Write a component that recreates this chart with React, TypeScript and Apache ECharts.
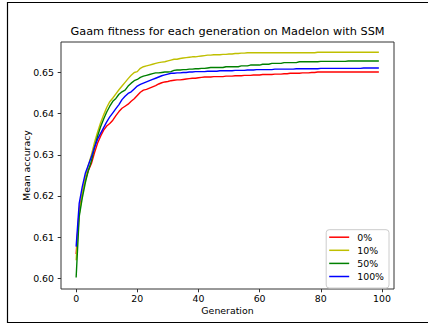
import React, { useEffect, useRef } from "react";
import * as echarts from "echarts";

// Mean accuracy per generation (0..99) for each SSM setting
const generations: number[] = Array.from({ length: 100 }, (_, i) => i);

const acc0: number[] = [
  0.6059, 0.6166, 0.6205, 0.6239, 0.6262, 0.6279, 0.6305, 0.6328, 0.6345, 0.6360,
  0.6370, 0.6376, 0.6384, 0.6395, 0.6405, 0.6413, 0.6418, 0.6423, 0.6430, 0.6436,
  0.6444, 0.6452, 0.6457, 0.6459, 0.6462, 0.6465, 0.6468, 0.6472, 0.6475, 0.6477,
  0.6478, 0.6480, 0.6481, 0.6482, 0.6482, 0.6483, 0.6484, 0.6485, 0.6486, 0.6486,
  0.6487, 0.6488, 0.6489, 0.6489, 0.6489, 0.6490, 0.6490, 0.6490, 0.6490, 0.6491,
  0.6491, 0.6491, 0.6492, 0.6492, 0.6492, 0.6493, 0.6493, 0.6493, 0.6494, 0.6494,
  0.6494, 0.6495, 0.6495, 0.6495, 0.6495, 0.6496, 0.6496, 0.6496, 0.6497, 0.6497,
  0.6498, 0.6498, 0.6498, 0.6498, 0.6499, 0.6499, 0.6499, 0.6500, 0.6500, 0.6501,
  0.6501, 0.6501, 0.6501, 0.6501, 0.6501, 0.6501, 0.6501, 0.6501, 0.6501, 0.6501,
  0.6501, 0.6501, 0.6501, 0.6501, 0.6501, 0.6501, 0.6501, 0.6501, 0.6501, 0.6501,
];

const acc10: number[] = [
  0.6044, 0.6155, 0.6205, 0.6245, 0.6275, 0.6300, 0.6330, 0.6355, 0.6378, 0.6397,
  0.6415, 0.6429, 0.6438, 0.6448, 0.6458, 0.6467, 0.6476, 0.6485, 0.6493, 0.6500,
  0.6502, 0.6510, 0.6514, 0.6516, 0.6518, 0.6520, 0.6522, 0.6524, 0.6525, 0.6526,
  0.6528, 0.6530, 0.6532, 0.6532, 0.6534, 0.6535, 0.6536, 0.6537, 0.6538, 0.6538,
  0.6539, 0.6540, 0.6541, 0.6542, 0.6542, 0.6543, 0.6543, 0.6543, 0.6544, 0.6544,
  0.6545, 0.6545, 0.6546, 0.6546, 0.6547, 0.6547, 0.6548, 0.6548, 0.6548, 0.6548,
  0.6548, 0.6548, 0.6548, 0.6548, 0.6548, 0.6548, 0.6548, 0.6548, 0.6548, 0.6548,
  0.6548, 0.6548, 0.6548, 0.6548, 0.6548, 0.6548, 0.6548, 0.6548, 0.6548, 0.6549,
  0.6549, 0.6549, 0.6549, 0.6549, 0.6549, 0.6549, 0.6549, 0.6549, 0.6549, 0.6549,
  0.6549, 0.6549, 0.6549, 0.6549, 0.6549, 0.6549, 0.6549, 0.6549, 0.6549, 0.6549,
];

const acc50: number[] = [
  0.6002, 0.6150, 0.6195, 0.6232, 0.6262, 0.6285, 0.6318, 0.6345, 0.6368, 0.6387,
  0.6404, 0.6418, 0.6430, 0.6437, 0.6447, 0.6453, 0.6457, 0.6467, 0.6474, 0.6480,
  0.6483, 0.6488, 0.6491, 0.6493, 0.6495, 0.6497, 0.6499, 0.6499, 0.6500, 0.6501,
  0.6501, 0.6502, 0.6505, 0.6506, 0.6506, 0.6507, 0.6507, 0.6508, 0.6508, 0.6509,
  0.6509, 0.6510, 0.6510, 0.6511, 0.6512, 0.6512, 0.6512, 0.6512, 0.6512, 0.6514,
  0.6514, 0.6514, 0.6514, 0.6514, 0.6516, 0.6516, 0.6516, 0.6518, 0.6518, 0.6518,
  0.6518, 0.6520, 0.6520, 0.6520, 0.6522, 0.6522, 0.6522, 0.6522, 0.6524, 0.6524,
  0.6524, 0.6524, 0.6524, 0.6526, 0.6526, 0.6526, 0.6526, 0.6526, 0.6526, 0.6526,
  0.6527, 0.6527, 0.6527, 0.6527, 0.6527, 0.6527, 0.6527, 0.6527, 0.6527, 0.6528,
  0.6528, 0.6528, 0.6528, 0.6528, 0.6528, 0.6528, 0.6528, 0.6528, 0.6528, 0.6528,
];

const acc100: number[] = [
  0.6077, 0.6182, 0.6222, 0.6255, 0.6275, 0.6295, 0.6318, 0.6338, 0.6352, 0.6366,
  0.6380, 0.6392, 0.6402, 0.6412, 0.6422, 0.6434, 0.6442, 0.6449, 0.6453, 0.6460,
  0.6467, 0.6471, 0.6474, 0.6477, 0.6480, 0.6483, 0.6486, 0.6489, 0.6492, 0.6494,
  0.6496, 0.6498, 0.6498, 0.6499, 0.6499, 0.6500, 0.6500, 0.6501, 0.6501, 0.6502,
  0.6502, 0.6502, 0.6502, 0.6503, 0.6503, 0.6503, 0.6503, 0.6504, 0.6504, 0.6504,
  0.6504, 0.6504, 0.6505, 0.6505, 0.6505, 0.6505, 0.6506, 0.6506, 0.6506, 0.6507,
  0.6507, 0.6507, 0.6507, 0.6507, 0.6507, 0.6508, 0.6508, 0.6508, 0.6508, 0.6508,
  0.6508, 0.6508, 0.6509, 0.6509, 0.6509, 0.6509, 0.6509, 0.6509, 0.6509, 0.6509,
  0.6510, 0.6510, 0.6510, 0.6510, 0.6510, 0.6510, 0.6510, 0.6510, 0.6510, 0.6510,
  0.6510, 0.6510, 0.6510, 0.6510, 0.6511, 0.6511, 0.6511, 0.6511, 0.6511, 0.6511,
];

const seriesNames: string[] = ["0%", "10%", "50%", "100%"];
const seriesColors: string[] = ["#ff0000", "#bfbf00", "#008000", "#0000ff"];
const seriesValues: number[][] = [acc0, acc10, acc50, acc100];

const xTicks: number[] = [0, 20, 40, 60, 80, 100];
const yTicks: number[] = [0.6, 0.61, 0.62, 0.63, 0.64, 0.65];

const FONT = "DejaVu Sans";

export default function App() {
  const ref = useRef<HTMLDivElement>(null);

  useEffect(() => {
    if (!ref.current) return;
    const chart = echarts.init(ref.current, null, { renderer: "svg" });

    const series = seriesNames.map((name, k) => ({
      name,
      type: "line",
      data: generations.map((g, i) => [g, seriesValues[k][i]]),
      symbol: "none",
      lineStyle: { color: seriesColors[k], width: 1.4 },
      itemStyle: { color: seriesColors[k] },
      z: 2 + k,
    }));

    chart.setOption({
      animation: false,
      backgroundColor: "#ffffff",
      title: {
        text: "Gaam fitness for each generation on Madelon with SSM",
        left: 227.5,
        textAlign: "center",
        top: 25.5,
        padding: 0,
        textStyle: { fontFamily: FONT, fontSize: 11.3, fontWeight: "normal", color: "#000" },
      },
      grid: {
        left: 61,
        right: 34,
        top: 42,
        bottom: 36,
        show: true,
        borderColor: "#333",
        borderWidth: 1,
        backgroundColor: "#fff",
      },
      legend: {
        orient: "vertical",
        right: 39,
        bottom: 37,
        data: seriesNames,
        icon: "path://M0,0h20v1.5h-20z",
        itemWidth: 20,
        itemHeight: 10,
        itemGap: 4.1,
        padding: [3, 5, 7, 3],
        backgroundColor: "#fff",
        borderColor: "#cccccc",
        borderWidth: 1,
        borderRadius: 3,
        textStyle: {
          fontFamily: FONT,
          fontSize: 9.4,
          color: "#000",
          padding: [0, 0, 0, 3],
        },
      },
      xAxis: {
        type: "value",
        min: -4.95,
        max: 103.95,
        name: "Generation",
        nameLocation: "middle",
        nameGap: 17,
        nameMoveOverlap: false,
        nameTextStyle: { fontFamily: FONT, fontSize: 9.4, color: "#000" },
        axisLine: { show: false, onZero: false },
        axisTick: {
          show: true,
          length: 3.3,
          lineStyle: { color: "#333", width: 1 },
          customValues: xTicks,
        },
        axisLabel: {
          margin: 5,
          fontFamily: FONT,
          fontSize: 9.4,
          color: "#000",
          customValues: xTicks,
          formatter: (v: number) => String(Math.round(v)),
        },
        splitLine: { show: false },
      },
      yAxis: {
        type: "value",
        min: 0.5974,
        max: 0.6574,
        name: "Mean accuracy",
        nameLocation: "middle",
        nameGap: 30,
        nameRotate: 90,
        nameMoveOverlap: false,
        nameTextStyle: { fontFamily: FONT, fontSize: 9.4, color: "#000" },
        axisLine: { show: false, onZero: false },
        axisTick: {
          show: true,
          length: 3.3,
          lineStyle: { color: "#333", width: 1 },
          customValues: yTicks,
        },
        axisLabel: {
          margin: 7,
          fontFamily: FONT,
          fontSize: 9.4,
          color: "#000",
          customValues: yTicks,
          formatter: (v: number) => v.toFixed(2),
        },
        splitLine: { show: false },
      },
      graphic: [
        {
          type: "rect",
          silent: true,
          z: 100,
          shape: { x: 7.5, y: 2.5, width: 440, height: 320 },
          style: { fill: "none", stroke: "#000", lineWidth: 1.2 },
        },
      ],
      series,
    });

    return () => chart.dispose();
  }, []);

  return (
    <div
      ref={ref}
      style={{ position: "fixed", left: 0, top: 0, width: 428, height: 325 }}
    />
  );
}
